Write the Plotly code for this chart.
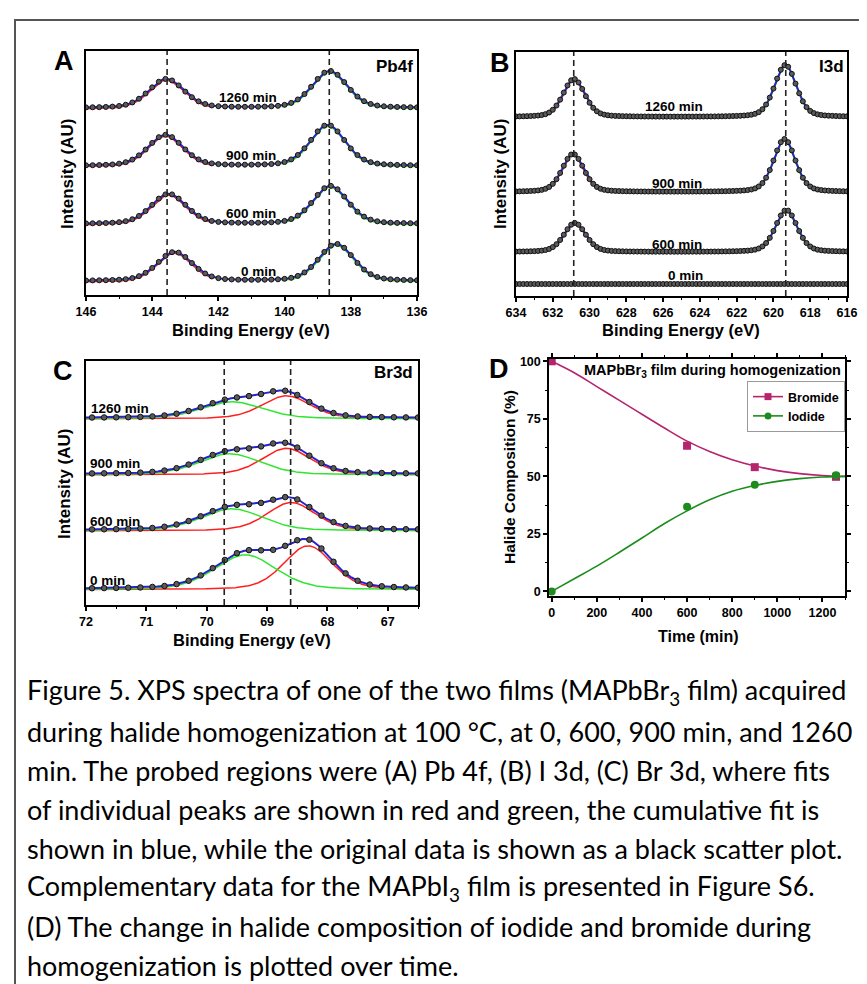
import numpy as np
import plotly.graph_objects as go

W, H = 867, 984
def px(x): return x / W
def py(y): return 1 - y / H

# ---------------- data ----------------
times = ["0 min", "600 min", "900 min", "1260 min"]

# Panel A  Pb 4f : fitted peak parameters (intensity in arbitrary units)
pb_energy = [146.0 - 0.2 * k for k in range(51)]
pb_base = [14, 71, 129, 187]
pb_red_center = [143.32, 143.50, 143.60, 143.57]
pb_red_height = [29, 30, 31, 29]
pb_green_center = [138.44, 138.62, 138.70, 138.64]
pb_green_height = [37, 38, 41, 37]
pb_fwhm = [1.25, 1.25]
pb_red_span = [146.0, 142.2]
pb_green_span = [140.1, 136.0]
pb_dash = [143.55, 138.65]

# Panel B  I 3d
i_energy = [634.0 - 0.2 * k for k in range(91)]
i_base = [12, 44, 104, 179]
i_red_center = [630.85, 630.80, 630.90, 630.85]
i_red_height = [0, 29, 38, 38]
i_green_center = [619.35, 619.30, 619.40, 619.35]
i_green_height = [0, 42, 53, 52]
i_fwhm = [1.4, 1.4]
i_red_span = [634.0, 628.8]
i_green_span = [622.0, 616.0]
i_dash = [630.86, 619.33]

# Panel C  Br 3d
br_energy = [71.9 - 0.2 * k for k in range(28)]
br_base = [16, 75, 131, 187]
br_green_center = [69.36, 69.58, 69.62, 69.58]
br_green_height = [35.0, 22.0, 21.0, 17.0]
br_red_center = [68.32, 68.60, 68.68, 68.68]
br_red_height = [44.0, 28.3, 26.5, 23.0]
br_fwhm = [1.2, 0.95]
br_dash = [69.71, 68.61]

# Panel D  halide composition
d_time = [0, 600, 900, 1260]
d_bromide = [100.0, 63.3, 54.0, 49.8]
d_iodide = [0.0, 36.8, 46.3, 50.5]
fit_time = [0, 100, 200, 300, 400, 500, 600, 700, 800, 900, 1000, 1100, 1200, 1300]
fit_bromide = [100, 95, 89, 83, 77, 71, 65.3, 60.8, 57.2, 54.5, 52.5, 51.2, 50.4, 50.0]
fit_iodide = [0, 5.5, 11, 17, 23.2, 29.5, 35, 39.8, 43.5, 46, 47.8, 49, 49.7, 50.0]

# ---------------- styling ----------------
BLUE = "#2424c8"
RED = "#ff1f1f"
GREEN = "#2ee62e"
BRO = "#b5246d"
IOD = "#1c8c1c"
FONT = "Liberation Sans"
ETA = 0.3


def pvoigt(e, c, h, w):
    e = np.asarray(e, dtype=float)
    u = ((e - c) / w) ** 2
    return h * ((1 - ETA) * np.exp(-4 * np.log(2) * u) + ETA / (1 + 4 * u))


fig = go.Figure()


def add_line(xa, ya, x, y, color, width):
    fig.add_trace(go.Scatter(x=x, y=y, xaxis=xa, yaxis=ya, mode="lines",
                             line=dict(color=color, width=width),
                             showlegend=False, hoverinfo="skip"))


def add_points(xa, ya, x, y, size=5):
    fig.add_trace(go.Scatter(x=x, y=y, xaxis=xa, yaxis=ya, mode="markers",
                             marker=dict(symbol="circle", size=size, color="#5a5a5a",
                                         line=dict(color="#111111", width=1)),
                             showlegend=False, hoverinfo="skip"))


def two_peak_panel(xa, ya, energy, base, rc, rh, gc, gh, fwhm, rspan, gspan, lo, hi):
    fine = np.linspace(lo, hi, 600)
    for k in range(len(base)):
        if rh[k] == 0 and gh[k] == 0:
            add_points(xa, ya, energy, [base[k]] * len(energy))
            continue
        r = pvoigt(fine, rc[k], rh[k], fwhm[0])
        g = pvoigt(fine, gc[k], gh[k], fwhm[1])
        mr = (fine <= max(rspan)) & (fine >= min(rspan))
        mg = (fine <= max(gspan)) & (fine >= min(gspan))
        add_line(xa, ya, fine[mr], base[k] - 1.2 + r[mr], RED, 1.5)
        add_line(xa, ya, fine[mg], base[k] - 1.2 + g[mg], GREEN, 1.5)
        add_line(xa, ya, fine, base[k] + r + g, BLUE, 2)
        e = np.asarray(energy)
        add_points(xa, ya, e, base[k] + pvoigt(e, rc[k], rh[k], fwhm[0]) + pvoigt(e, gc[k], gh[k], fwhm[1]))


two_peak_panel("x", "y", pb_energy, pb_base, pb_red_center, pb_red_height,
               pb_green_center, pb_green_height, pb_fwhm, pb_red_span, pb_green_span, 146, 136)
two_peak_panel("x2", "y2", i_energy, i_base, i_red_center, i_red_height,
               i_green_center, i_green_height, i_fwhm, i_red_span, i_green_span, 634, 616)

# Panel C
fineC = np.linspace(72, 66.5, 500)
for k in range(4):
    g = pvoigt(fineC, br_green_center[k], br_green_height[k], br_fwhm[0])
    r = pvoigt(fineC, br_red_center[k], br_red_height[k], br_fwhm[1])
    add_line("x3", "y3", fineC, br_base[k] - 0.8 + r, RED, 1.5)
    add_line("x3", "y3", fineC, br_base[k] - 0.8 + g, GREEN, 1.5)
    add_line("x3", "y3", fineC, br_base[k] + r + g, BLUE, 2)
    e = np.asarray(br_energy)
    add_points("x3", "y3", e, br_base[k] + pvoigt(e, br_green_center[k], br_green_height[k], br_fwhm[0])
               + pvoigt(e, br_red_center[k], br_red_height[k], br_fwhm[1]), size=5.5)

# Panel D
fig.add_trace(go.Scatter(x=fit_time, y=fit_bromide, xaxis="x4", yaxis="y4", mode="lines",
                         line=dict(color=BRO, width=1.6, shape="spline"), showlegend=False))
fig.add_trace(go.Scatter(x=fit_time, y=fit_iodide, xaxis="x4", yaxis="y4", mode="lines",
                         line=dict(color=IOD, width=1.6, shape="spline"), showlegend=False))
fig.add_trace(go.Scatter(x=d_time, y=d_bromide, xaxis="x4", yaxis="y4", mode="markers",
                         marker=dict(symbol="square", size=8, color=BRO), showlegend=False))
fig.add_trace(go.Scatter(x=d_time, y=d_iodide, xaxis="x4", yaxis="y4", mode="markers",
                         marker=dict(symbol="circle", size=8, color=IOD), showlegend=False))
fig.add_trace(go.Scatter(x=[None], y=[None], xaxis="x4", yaxis="y4", mode="lines+markers",
                         name="Bromide", line=dict(color=BRO, width=1.6),
                         marker=dict(symbol="square", size=7, color=BRO)))
fig.add_trace(go.Scatter(x=[None], y=[None], xaxis="x4", yaxis="y4", mode="lines+markers",
                         name="Iodide", line=dict(color=IOD, width=1.6),
                         marker=dict(symbol="circle", size=7, color=IOD)))

TICK = 12.5


# ---------------- axes ----------------
def xax(dom, yanchor, rng, dtick, minor, mirror=True):
    return dict(domain=[px(dom[0]), px(dom[1])], anchor=yanchor, range=rng,
                showline=True, linecolor="black", linewidth=1.5, mirror=mirror,
                showgrid=False, zeroline=False, ticks="outside", ticklen=4,
                tickwidth=1.5, tickcolor="black", dtick=dtick, tick0=0,
                minor=dict(ticks="outside", ticklen=2.5, tickwidth=1.2, tickcolor="black", dtick=minor),
                tickfont=dict(family=FONT, size=TICK, color="black", weight="bold"))


def yblank(dom, xanchor):
    return dict(domain=[py(dom[1]), py(dom[0])], anchor=xanchor, range=[0, 244],
                showline=True, linecolor="black", linewidth=1.5, mirror=True,
                showgrid=False, zeroline=False, ticks="", showticklabels=False)


fig.update_layout(
    xaxis=xax((78, 409), "y", [146, 136], 2, 1),
    yaxis=yblank((43, 287), "x"),
    xaxis2=xax((508, 839), "y2", [634, 616], 2, 1),
    yaxis2=yblank((44, 288), "x2"),
    xaxis3=xax((78, 410), "y3", [72, 66.5], 1, 0.5),
    yaxis3=yblank((353, 597), "x3"),
    xaxis4=xax((541, 837), "y4", [-12, 1300], 200, 100, mirror="ticks"),
    yaxis4=dict(domain=[py(588), py(351)], anchor="x4", range=[-2, 101],
                showline=True, linecolor="black", linewidth=1.5, mirror="ticks",
                showgrid=False, zeroline=False, ticks="outside", ticklen=4,
                tickwidth=1.5, tickcolor="black", tickvals=[0, 25, 50, 75, 100],
                minor=dict(ticks="outside", ticklen=2.5, tickwidth=1.2, tickcolor="black",
                           tickvals=[12.5, 37.5, 62.5, 87.5]),
                tickfont=dict(family=FONT, size=TICK, color="black", weight="bold")),
)

# dashed reference lines
shapes = []
for xa, ya, vals in (("x", "y", pb_dash), ("x2", "y2", i_dash), ("x3", "y3", br_dash)):
    for v in vals:
        shapes.append(dict(type="line", xref=xa, yref=ya + " domain", x0=v, x1=v, y0=0, y1=1,
                           line=dict(color="#222222", width=1.6, dash="6px,4px")))
# outer frame of the figure
shapes.append(dict(type="rect", xref="paper", yref="paper", x0=px(7), x1=px(880),
                   y0=py(1000), y1=py(12), line=dict(color="#555555", width=2)))

ann = []
def text(x, y, s, size, xanchor="center", angle=0, bold=True, family=FONT):
    ann.append(dict(x=px(x), y=py(y), xref="paper", yref="paper", text=s, showarrow=False,
                    xanchor=xanchor, yanchor="middle", textangle=angle,
                    font=dict(family=family, size=size, color="black",
                              weight="bold" if bold else "normal")))

# panel letters
for (x, y, s) in ((56, 53, "A"), (492, 55, "B"), (55, 363, "C"), (491, 361, "D")):
    text(x, y, s, 27)
# region labels
text(407, 59, "Pb4f", 17, "right")
text(838, 59, "I3d", 17, "right")
text(407, 365, "Br3d", 17, "right")
# time labels
for s, (x, y) in zip(times, ((250, 263), (243, 205), (243, 147), (240, 90))):
    text(x, y, s, 13.5)
for s, (x, y) in zip(times, ((677, 267), (669, 236), (669, 175), (666, 99))):
    text(x, y, s, 13.5)
for s, (x, y) in zip(times, ((80, 572), (80, 513), (80, 456), (81, 400))):
    text(x, y, s, 13.5, "left")
# axis titles
text(243, 322, "Binding Energy (eV)", 16.5)
text(673, 322, "Binding Energy (eV)", 16.5)
text(244, 632, "Binding Energy (eV)", 16.5)
text(690, 628, "Time (min)", 16)
text(59, 166, "Intensity (AU)", 17, angle=-90)
text(492, 166, "Intensity (AU)", 17, angle=-90)
text(57, 475, "Intensity (AU)", 17, angle=-90)
text(502, 469, "Halide Composition (%)", 15.5, angle=-90)
text(704, 363, "MAPbBr<sub>3</sub> film during homogenization", 14.5)

# caption
caption = [
    "Figure 5. XPS spectra of one of the two films (MAPbBr<sub>3</sub> film) acquired",
    "during halide homogenization at 100 °C, at 0, 600, 900 min, and 1260",
    "min. The probed regions were (A) Pb 4f, (B) I 3d, (C) Br 3d, where fits",
    "of individual peaks are shown in red and green, the cumulative fit is",
    "shown in blue, while the original data is shown as a black scatter plot.",
    "Complementary data for the MAPbI<sub>3</sub> film is presented in Figure S6.",
    "(D) The change in halide composition of iodide and bromide during",
    "homogenization is plotted over time.",
]
caption_y = [683, 723, 762, 801, 840, 879, 918, 957]
for s, y in zip(caption, caption_y):
    text(17, y, s, 27, "left", bold=False, family="Lato")

fig.update_layout(
    width=W, height=H, margin=dict(l=0, r=0, t=0, b=0, autoexpand=False),
    paper_bgcolor="white", plot_bgcolor="white",
    shapes=shapes, annotations=ann,
    legend=dict(x=px(739), y=py(373), xanchor="left", yanchor="top",
                bgcolor="white", bordercolor="#9a9a9a", borderwidth=1,
                font=dict(family=FONT, size=12.5, color="black", weight="bold"),
                itemwidth=30, tracegroupgap=0),
)

fig.write_html("out.html")
